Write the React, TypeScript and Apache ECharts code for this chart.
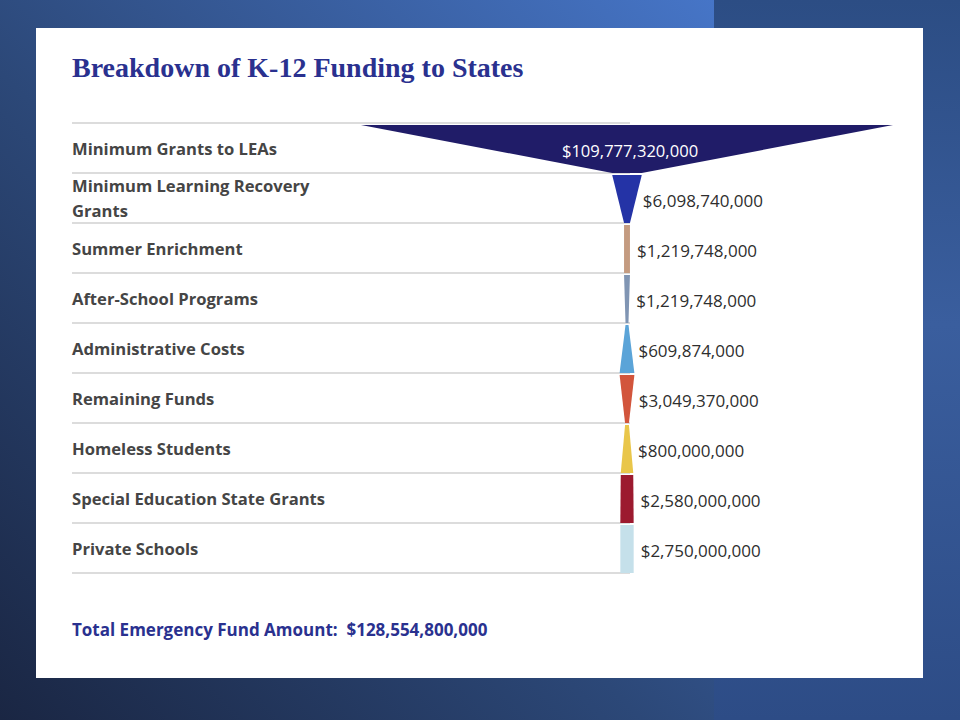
import React, { useEffect, useRef } from "react";
import * as echarts from "echarts";

const title = "Breakdown of K-12 Funding to States";
const totalLabel = "Total Emergency Fund Amount:  $128,554,800,000";
const categories = [
  "Minimum Grants to LEAs",
  "Minimum Learning Recovery\nGrants",
  "Summer Enrichment",
  "After-School Programs",
  "Administrative Costs",
  "Remaining Funds",
  "Homeless Students",
  "Special Education State Grants",
  "Private Schools",
];
const values = [
  109777320000, 6098740000, 1219748000, 1219748000, 609874000, 3049370000,
  800000000, 2580000000, 2750000000,
];
const colors = [
  "#201c68",
  "#2433a6",
  "#c49b80",
  "#8095b3",
  "#5ba4d8",
  "#d2553c",
  "#e9c64a",
  "#9c1a2f",
  "#c5e0ea",
];

const fmt = (v: number) => "$" + v.toLocaleString("en-US");

export default function App() {
  const ref = useRef<HTMLDivElement>(null);
  useEffect(() => {
    if (!ref.current) return;
    const chart = echarts.init(ref.current, null, { renderer: "svg" });
    const maxV = Math.max(...values);
    // layout: grid from x=72 to x=890, funnel centre at x=627, widest = 532px
    const gridL = 72;
    const gridR = 890;
    const centre = 627;
    const widest = 532;
    const perPx = maxV / widest;
    const xMin = -(centre - gridL) * perPx;
    const xMax = (gridR - centre) * perPx;

    const data = values.map((v, i) => [i, v, i + 1 < values.length ? values[i + 1] : v]);

    chart.setOption({
      animation: false,
      graphic: [
        {
          type: "rect",
          shape: { x: 0, y: 0, width: 714, height: 720 },
          style: {
            fill: new echarts.graphic.LinearGradient(1, 0, 0, 1, [
              { offset: 0, color: "#4675c7" },
              { offset: 0.55, color: "#2c4878" },
              { offset: 1, color: "#1a2643" },
            ]),
          },
          z: -10,
        },
        {
          type: "rect",
          shape: { x: 714, y: 0, width: 246, height: 720 },
          style: {
            fill: new echarts.graphic.LinearGradient(0, 0, 0, 1, [
              { offset: 0, color: "#2c4d84" },
              { offset: 0.45, color: "#3a5e9e" },
              { offset: 1, color: "#2d4c86" },
            ]),
          },
          z: -10,
        },
        {
          type: "rect",
          shape: { x: 36, y: 28, width: 887, height: 650 },
          style: { fill: "#ffffff" },
          z: -9,
        },
        {
          type: "text",
          x: 72,
          y: 67,
          style: {
            text: title,
            fill: "#2a318f",
            font: "bold 28px 'Liberation Serif', serif",
            verticalAlign: "middle",
            align: "left",
          },
        },
        {
          type: "text",
          x: 72,
          y: 629,
          style: {
            text: totalLabel,
            fill: "#2a318f",
            font: "bold 17px 'Open Sans', sans-serif",
            verticalAlign: "middle",
            align: "left",
          },
        },
      ],
      grid: { left: gridL, right: 960 - gridR, top: 123, height: 450 },
      xAxis: {
        type: "value",
        min: xMin,
        max: xMax,
        show: false,
      },
      yAxis: {
        type: "category",
        data: categories,
        inverse: true,
        axisLine: { show: false },
        axisTick: { show: false },
        splitLine: { show: false },
        axisLabel: {
          inside: true,
          margin: 0,
          align: "left",
          color: "#454545",
          fontFamily: "'Open Sans', sans-serif",
          fontWeight: "bold",
          fontSize: 16.6,
          lineHeight: 25,
          padding: [4, 0, 0, 0],
        },
        z: 5,
      },
      series: [
        {
          type: "custom",
          data,
          encode: { x: 1, y: 0 },
          renderItem: (params: any, api: any) => {
            const idx = api.value(0);
            const v = api.value(1);
            const nv = api.value(2);
            const c = api.coord([0, idx]);
            const h = api.size([0, 1])[1];
            const top = c[1] - h / 2;
            const bot = c[1] + h / 2;
            const xl = api.coord([-v / 2, idx])[0];
            const xr = api.coord([v / 2, idx])[0];
            const nxl = api.coord([-nv / 2, idx])[0];
            const nxr = api.coord([nv / 2, idx])[0];
            const left = params.coordSys.x;
            const children: any[] = [];
            if (idx === 0) {
              children.push({
                type: "line",
                shape: { x1: left, y1: top, x2: c[0] + 3, y2: top },
                style: { stroke: "#dcdcdc", lineWidth: 2 },
              });
            }
            children.push({
              type: "line",
              shape: { x1: left, y1: bot, x2: c[0] + 3, y2: bot },
              style: { stroke: "#dcdcdc", lineWidth: 2 },
            });
            children.push({
              type: "polygon",
              shape: {
                points: [
                  [xl, top + 2],
                  [xr, top + 2],
                  [nxr, bot],
                  [nxl, bot],
                ],
              },
              style: { fill: colors[idx] },
            });
            if (idx === 0) {
              children.push({
                type: "text",
                x: c[0] + 3,
                y: c[1] + 2,
                style: {
                  text: fmt(v),
                  fill: "#ffffff",
                  font: "16.6px 'Open Sans', sans-serif",
                  align: "center",
                  verticalAlign: "middle",
                },
              });
            } else {
              children.push({
                type: "text",
                x: (xr + nxr) / 2 + 7,
                y: c[1] + 2,
                style: {
                  text: fmt(v),
                  fill: "#2e2e2e",
                  font: "17px 'Open Sans', sans-serif",
                  align: "left",
                  verticalAlign: "middle",
                },
              });
            }
            return { type: "group", children };
          },
        },
      ],
    });
    return () => chart.dispose();
  }, []);
  return (
    <div
      ref={ref}
      style={{ position: "absolute", left: 0, top: 0, width: 960, height: 720 }}
    />
  );
}
